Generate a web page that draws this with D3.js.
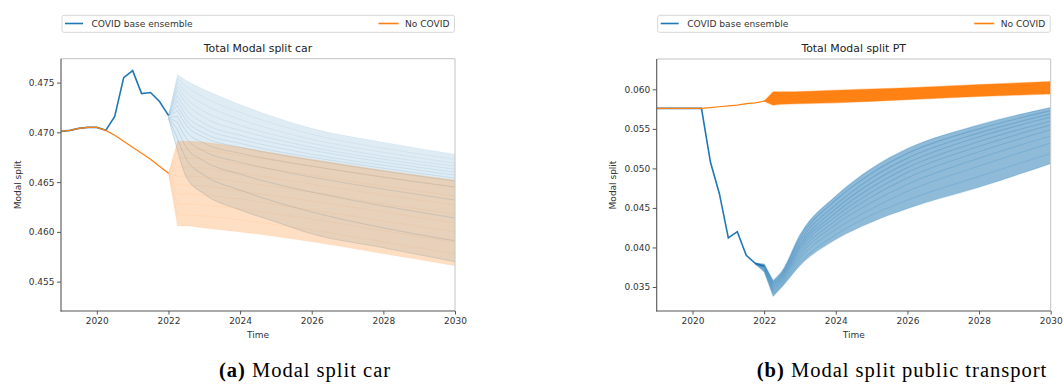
<!DOCTYPE html>
<html>
<head>
<meta charset="utf-8">
<script src="https://cdn.jsdelivr.net/npm/d3@7"></script>
<style>
  body { margin: 0; background: #fff; }
  svg { display: block; }
</style>
</head>
<body>
<svg width="1063" height="385"></svg>
<script>
// ---- data ----
const histTime = [2019, 2019.25, 2019.5, 2019.75, 2020, 2020.25, 2020.5, 2020.75, 2021, 2021.25, 2021.5, 2021.75, 2022];

// car, history (common to all members)
const carCovidHist   = [0.4701, 0.4702, 0.4704, 0.4705, 0.4705, 0.4702, 0.4716, 0.4755, 0.4762, 0.4739, 0.4740, 0.4731, 0.4717];
const carNoCovidHist = [0.4701, 0.4702, 0.4704, 0.4705, 0.4705, 0.4702, 0.4697, 0.4691, 0.4685, 0.4679, 0.4673, 0.4666, 0.4659];

// car, ensemble members after 2022
const carCovidTime = [2022, 2022.25, 2022.5, 2023, 2024, 2025, 2026, 2028, 2030];
const carCovidMembers = [
  [0.4717, 0.4758, 0.4752, 0.4743, 0.4728, 0.4715, 0.4704, 0.4690, 0.4678],
  [0.4717, 0.4754, 0.4746, 0.4735, 0.4720, 0.4708, 0.4698, 0.4684, 0.4673],
  [0.4717, 0.4750, 0.4740, 0.4728, 0.4713, 0.4702, 0.4693, 0.4680, 0.4669],
  [0.4717, 0.4746, 0.4734, 0.4721, 0.4707, 0.4697, 0.4689, 0.4676, 0.4666],
  [0.4716, 0.4742, 0.4729, 0.4715, 0.4702, 0.4693, 0.4685, 0.4673, 0.4663],
  [0.4716, 0.4737, 0.4723, 0.4709, 0.4697, 0.4689, 0.4682, 0.4670, 0.4660],
  [0.4716, 0.4732, 0.4717, 0.4704, 0.4693, 0.4685, 0.4678, 0.4667, 0.4657],
  [0.4716, 0.4727, 0.4712, 0.4699, 0.4689, 0.4681, 0.4675, 0.4664, 0.4654],
  [0.4716, 0.4722, 0.4707, 0.4695, 0.4685, 0.4678, 0.4672, 0.4661, 0.4651],
  [0.4715, 0.4716, 0.4701, 0.4689, 0.4679, 0.4672, 0.4666, 0.4655, 0.4645],
  [0.4715, 0.4710, 0.4694, 0.4681, 0.4670, 0.4662, 0.4655, 0.4643, 0.4632],
  [0.4715, 0.4703, 0.4685, 0.4671, 0.4658, 0.4648, 0.4640, 0.4626, 0.4614],
  [0.4714, 0.4694, 0.4673, 0.4657, 0.4642, 0.4630, 0.4620, 0.4604, 0.4591],
  [0.4714, 0.4682, 0.4655, 0.4638, 0.4622, 0.4610, 0.4598, 0.4584, 0.4570]
];
const carNoCovidTime = [2022, 2022.25, 2022.5, 2023, 2024, 2026, 2028, 2030];
const carNoCovidMembers = [
  [0.4659, 0.4691, 0.4691, 0.4690, 0.4685, 0.4673, 0.4662, 0.4652],
  [0.4659, 0.4683, 0.4683, 0.4682, 0.4677, 0.4666, 0.4655, 0.4645],
  [0.4659, 0.4674, 0.4674, 0.4673, 0.4668, 0.4657, 0.4646, 0.4636],
  [0.4659, 0.4665, 0.4665, 0.4664, 0.4659, 0.4648, 0.4637, 0.4627],
  [0.4659, 0.4656, 0.4656, 0.4655, 0.4650, 0.4640, 0.4628, 0.4618],
  [0.4659, 0.4647, 0.4647, 0.4646, 0.4641, 0.4631, 0.4620, 0.4609],
  [0.4659, 0.4638, 0.4638, 0.4637, 0.4633, 0.4622, 0.4611, 0.4600],
  [0.4659, 0.4628, 0.4628, 0.4627, 0.4623, 0.4613, 0.4601, 0.4590],
  [0.4659, 0.4617, 0.4617, 0.4616, 0.4612, 0.4602, 0.4590, 0.4578],
  [0.4659, 0.4606, 0.4606, 0.4604, 0.4600, 0.4590, 0.4578, 0.4566]
];

// public transport, history
const ptCovidHist   = [0.0576, 0.0576, 0.0576, 0.0576, 0.0576, 0.0576, 0.0508, 0.0468, 0.0412, 0.0420, 0.0390, 0.0380, 0.0376];
const ptNoCovidHist = [0.0576, 0.0576, 0.0576, 0.0576, 0.0576, 0.0576, 0.0577, 0.0578, 0.0579, 0.0580, 0.0582, 0.0583, 0.0585];

// public transport, ensemble members
const ptCovidTime = [2021.75, 2022, 2022.25, 2022.5, 2023, 2024, 2025, 2026, 2028, 2030];
const ptCovidMembers = [
  [0.0380, 0.0379, 0.0358, 0.0370, 0.0416, 0.0465, 0.0500, 0.0525, 0.0555, 0.0577],
  [0.0380, 0.0378, 0.0356, 0.0368, 0.0412, 0.0460, 0.0494, 0.0519, 0.0550, 0.0573],
  [0.0380, 0.0377, 0.0354, 0.0366, 0.0408, 0.0454, 0.0488, 0.0513, 0.0545, 0.0569],
  [0.0380, 0.0376, 0.0352, 0.0364, 0.0404, 0.0449, 0.0482, 0.0507, 0.0540, 0.0565],
  [0.0380, 0.0375, 0.0350, 0.0362, 0.0401, 0.0444, 0.0476, 0.0501, 0.0534, 0.0560],
  [0.0380, 0.0374, 0.0348, 0.0360, 0.0398, 0.0439, 0.0470, 0.0495, 0.0528, 0.0555],
  [0.0379, 0.0373, 0.0346, 0.0358, 0.0394, 0.0434, 0.0464, 0.0488, 0.0521, 0.0549],
  [0.0379, 0.0372, 0.0344, 0.0356, 0.0390, 0.0429, 0.0457, 0.0480, 0.0513, 0.0541],
  [0.0379, 0.0371, 0.0342, 0.0354, 0.0386, 0.0423, 0.0449, 0.0471, 0.0503, 0.0532],
  [0.0379, 0.0370, 0.0340, 0.0352, 0.0381, 0.0416, 0.0441, 0.0460, 0.0490, 0.0519],
  [0.0379, 0.0369, 0.0338, 0.0350, 0.0377, 0.0410, 0.0432, 0.0449, 0.0476, 0.0506]
];
const ptNoCovidTime = [2022, 2022.25, 2022.5, 2024, 2026, 2028, 2030];
const ptNoCovidMembers = [
  [0.0585, 0.0597, 0.0597, 0.0599, 0.0602, 0.0606, 0.0610],
  [0.0585, 0.0594, 0.0595, 0.0597, 0.0600, 0.0604, 0.0608],
  [0.0585, 0.0592, 0.0592, 0.0594, 0.0598, 0.0602, 0.0605],
  [0.0585, 0.0589, 0.0590, 0.0592, 0.0595, 0.0599, 0.0603],
  [0.0585, 0.0586, 0.0587, 0.0589, 0.0593, 0.0597, 0.0600],
  [0.0585, 0.0583, 0.0584, 0.0586, 0.0590, 0.0594, 0.0597],
  [0.0585, 0.0580, 0.0581, 0.0583, 0.0587, 0.0591, 0.0594]
];

const xTicks = [2020, 2022, 2024, 2026, 2028, 2030];
const carTicks = [0.455, 0.460, 0.465, 0.470, 0.475];
const ptTicks = [0.035, 0.040, 0.045, 0.050, 0.055, 0.060];
const seriesNames = ["COVID base ensemble", "No COVID"];

const BLUE = "#1f77b4";
const ORANGE = "#ff7f0e";
const FONT = "DejaVu Sans, sans-serif";

const svg = d3.select("svg");

// ensemble: straight segments up to the 2022.25 split, smooth afterwards
function drawEnsemble(g, x, y, times, members, color, fillOp, lineOp0, lineOp1, width) {
    const k = times.indexOf(2022.25);
    const lin = d3.line().x(d => x(d[0])).y(d => y(d[1]));
    const smooth = d3.line().x(d => x(d[0])).y(d => y(d[1])).curve(d3.curveMonotoneX);
    const linA = d3.area().x(d => x(d[0])).y0(d => y(d[1])).y1(d => y(d[2]));
    const smoothA = d3.area().x(d => x(d[0])).y0(d => y(d[1])).y1(d => y(d[2])).curve(d3.curveMonotoneX);

    // envelope of all members
    const env = times.map((t, i) => [t, d3.min(members, m => m[i]), d3.max(members, m => m[i])]);
    g.append("path").attr("d", linA(env.slice(0, k + 1)) + smoothA(env.slice(k)))
        .attr("fill", color).attr("fill-opacity", fillOp);

    members.forEach((m, j) => {
        const pts = times.map((t, i) => [t, m[i]]);
        const op = lineOp0 + (lineOp1 - lineOp0) * j / (members.length - 1);
        g.append("path").attr("d", lin(pts.slice(0, k + 1)) + smooth(pts.slice(k)).replace(/^M/, "L"))
            .attr("fill", "none").attr("stroke", color)
            .attr("stroke-opacity", op).attr("stroke-width", width)
            .attr("stroke-linejoin", "round");
    });
}

function drawPanel(p) {
    const top = p.top, bottom = 311;
    const x = d3.scaleLinear().domain([2019, 2030]).range([p.left, p.right]);
    const y = d3.scaleLinear().domain(p.yDomain).range([bottom, top]);
    const g = svg.append("g");

    const clipId = "clip" + p.id;
    svg.append("clipPath").attr("id", clipId)
        .append("rect").attr("x", p.left).attr("y", top)
        .attr("width", p.right - p.left).attr("height", bottom - top);
    const plot = g.append("g").attr("clip-path", `url(#${clipId})`);

    const lin = d3.line().x((d, i) => x(histTime[i])).y(d => y(d));

    // COVID ensemble first, No COVID drawn over it
    plot.append("path").attr("d", lin(p.covidHist))
        .attr("fill", "none").attr("stroke", BLUE).attr("stroke-width", 1.6);
    drawEnsemble(plot, x, y, p.covidTime, p.covidMembers, BLUE, ...p.covidStyle);

    plot.append("path").attr("d", lin(p.noCovidHist))
        .attr("fill", "none").attr("stroke", ORANGE).attr("stroke-width", 1.2);
    drawEnsemble(plot, x, y, p.noCovidTime, p.noCovidMembers, ORANGE, ...p.noCovidStyle);

    // axes
    const ax = g.append("g").attr("transform", `translate(0,${bottom})`)
        .call(d3.axisBottom(x).tickValues(xTicks).tickFormat(d3.format("d")).tickSize(3.5).tickPadding(3));
    const ay = g.append("g").attr("transform", `translate(${p.left},0)`)
        .call(d3.axisLeft(y).tickValues(p.yTicks).tickFormat(d3.format(".3f")).tickSize(4).tickPadding(2.5));
    [ax, ay].forEach(a => {
        a.select(".domain").remove();
        a.selectAll("line").attr("stroke", "#444").attr("stroke-width", 0.9);
        a.selectAll("text").attr("fill", "#333").style("font-family", FONT).style("font-size", "9px");
    });

    // spines
    g.append("line").attr("x1", p.left).attr("x2", p.right).attr("y1", top).attr("y2", top)
        .attr("stroke", "#c4c4c4").attr("stroke-width", 1);
    g.append("line").attr("x1", p.right).attr("x2", p.right).attr("y1", top).attr("y2", bottom)
        .attr("stroke", "#c4c4c4").attr("stroke-width", 1);
    g.append("line").attr("x1", p.left).attr("x2", p.left).attr("y1", top).attr("y2", bottom + 0.5)
        .attr("stroke", "#555").attr("stroke-width", 1.1);
    g.append("line").attr("x1", p.left - 0.5).attr("x2", p.right).attr("y1", bottom).attr("y2", bottom)
        .attr("stroke", "#555").attr("stroke-width", 1.1);

    // labels
    const cx = (p.left + p.right) / 2;
    g.append("text").attr("x", cx).attr("y", 52).attr("text-anchor", "middle")
        .style("font-family", FONT).style("font-size", "10.9px").attr("fill", "#222").text(p.title);
    g.append("text").attr("x", cx).attr("y", 337.5).attr("text-anchor", "middle")
        .style("font-family", FONT).style("font-size", "9px").attr("fill", "#333").text("Time");
    g.append("text").attr("transform", `translate(${p.ylabX},${(top + bottom) / 2}) rotate(-90)`)
        .attr("text-anchor", "middle")
        .style("font-family", FONT).style("font-size", "9px").attr("fill", "#333").text("Modal split");

    // legend
    const lg = g.append("g");
    lg.append("rect").attr("x", p.left + 1).attr("y", 15.3).attr("width", p.right - p.left - 1.5).attr("height", 17)
        .attr("rx", 2).attr("fill", "#fff").attr("stroke", "#d2d2d2").attr("stroke-width", 0.9);
    lg.append("line").attr("x1", p.left + 4).attr("x2", p.left + 22).attr("y1", 23.5).attr("y2", 23.5)
        .attr("stroke", BLUE).attr("stroke-width", 1.6);
    lg.append("text").attr("x", p.left + 30.5).attr("y", 26.8)
        .style("font-family", FONT).style("font-size", "9.1px").attr("fill", "#333").text(seriesNames[0]);
    lg.append("line").attr("x1", p.right - 76.5).attr("x2", p.right - 56.5).attr("y1", 23.5).attr("y2", 23.5)
        .attr("stroke", ORANGE).attr("stroke-width", 1.6);
    lg.append("text").attr("x", p.right - 5.5).attr("y", 26.8).attr("text-anchor", "end")
        .style("font-family", FONT).style("font-size", "9.1px").attr("fill", "#333").text(seriesNames[1]);

    // caption
    const cap = svg.append("text").attr("x", p.capX).attr("y", 376.5).attr("text-anchor", "middle")
        .style("font-family", "Liberation Serif, serif").style("font-size", "20.5px")
        .style("letter-spacing", "1px").attr("fill", "#000");
    cap.append("tspan").attr("font-weight", "bold").text(p.capTag);
    cap.append("tspan").text(" " + p.caption);
}

drawPanel({
    id: "car", left: 61, right: 455, top: 58.7, yDomain: [0.45205, 0.4774], yTicks: carTicks,
    covidHist: carCovidHist, noCovidHist: carNoCovidHist,
    covidTime: carCovidTime, covidMembers: carCovidMembers, covidStyle: [0.14, 0.05, 0.2, 1.0],
    noCovidTime: carNoCovidTime, noCovidMembers: carNoCovidMembers, noCovidStyle: [0.25, 0.07, 0.07, 1.0],
    title: "Total Modal split car", ylabX: 20.5,
    capX: 305, capTag: "(a)", caption: "Modal split car"
});

drawPanel({
    id: "pt", left: 656.7, right: 1050.7, top: 59, yDomain: [0.03196, 0.06384], yTicks: ptTicks,
    covidHist: ptCovidHist, noCovidHist: ptNoCovidHist,
    covidTime: ptCovidTime, covidMembers: ptCovidMembers, covidStyle: [0.5, 0.3, 0.12, 1.2],
    noCovidTime: ptNoCovidTime, noCovidMembers: ptNoCovidMembers, noCovidStyle: [0.97, 0.3, 0.3, 1.2],
    title: "Total Modal split PT", ylabX: 615.6,
    capX: 902, capTag: "(b)", caption: "Modal split public transport"
});
</script>
</body>
</html>
